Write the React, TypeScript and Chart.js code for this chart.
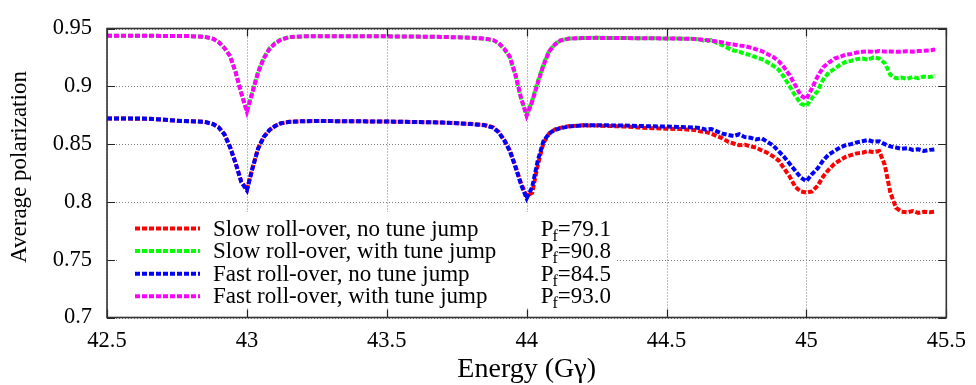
import React, { useEffect, useRef } from "react";
import { Chart, registerables } from "chart.js";

Chart.register(...registerables);

const energy = [
  42.5, 42.55, 42.6, 42.65, 42.7, 42.75, 42.8, 42.85,
  42.88, 42.9, 42.92, 42.94, 42.96, 42.98, 43.0, 43.02, 43.04, 43.06, 43.08, 43.1, 43.12, 43.15,
  43.2, 43.25, 43.3, 43.35, 43.4, 43.45, 43.5, 43.55, 43.6, 43.65, 43.7, 43.75, 43.8, 43.85,
  43.88, 43.9, 43.92, 43.94, 43.96, 43.98, 44.0, 44.02, 44.04, 44.06, 44.08, 44.1, 44.12, 44.15,
  44.2, 44.25, 44.3, 44.35, 44.4, 44.45, 44.5, 44.55, 44.6,
  44.62, 44.64, 44.66, 44.68, 44.7, 44.72, 44.74, 44.76, 44.78, 44.8,
  44.82, 44.84, 44.86, 44.88, 44.9, 44.92, 44.94, 44.96, 44.98, 45.0,
  45.02, 45.04, 45.06, 45.08, 45.1, 45.12, 45.14, 45.16, 45.18, 45.2,
  45.22, 45.24, 45.26, 45.28, 45.3, 45.32, 45.34, 45.36, 45.38, 45.4,
  45.42, 45.44, 45.46,
];

const slowNoJump = [
  0.8721, 0.8722, 0.872, 0.872, 0.8711, 0.8702, 0.8697, 0.8692,
  0.8672, 0.8644, 0.8585, 0.8475, 0.8335, 0.8175, 0.8105, 0.8292, 0.8462, 0.8562, 0.8621, 0.8656, 0.8679, 0.8693,
  0.8698, 0.87, 0.8699, 0.8698, 0.8697, 0.8696, 0.8695, 0.8693, 0.8691, 0.8689, 0.8686, 0.8681, 0.8675, 0.8665,
  0.8645, 0.8605, 0.8535, 0.8445, 0.831, 0.816, 0.805, 0.808, 0.832, 0.851, 0.859, 0.8625, 0.864, 0.8655,
  0.8662, 0.866, 0.8656, 0.8652, 0.8644, 0.8638, 0.8633, 0.863, 0.8622,
  0.861, 0.8605, 0.859, 0.857, 0.855, 0.852, 0.8505, 0.849, 0.8495, 0.848,
  0.847, 0.8445, 0.8425, 0.8395, 0.836, 0.829, 0.822, 0.813, 0.809, 0.808,
  0.809, 0.814, 0.822, 0.828, 0.833, 0.836, 0.839, 0.8405, 0.842, 0.8425,
  0.844, 0.843, 0.844, 0.832, 0.808, 0.795, 0.7915, 0.791, 0.792, 0.7905,
  0.7915, 0.791, 0.7915,
];

const slowWithJump = [
  0.9438, 0.9438, 0.9437, 0.9437, 0.9436, 0.9436, 0.9434, 0.9428,
  0.941, 0.9382, 0.9332, 0.9262, 0.9122, 0.8942, 0.8785, 0.8955, 0.9125, 0.9245, 0.9325, 0.9372, 0.9402, 0.9426,
  0.9432, 0.9434, 0.9434, 0.9433, 0.9433, 0.9432, 0.9432, 0.9431, 0.943, 0.9429, 0.9427, 0.9424, 0.942, 0.9412,
  0.94, 0.9372, 0.932, 0.925, 0.9095, 0.8895, 0.875, 0.888, 0.9045, 0.919, 0.9305, 0.9362, 0.9397, 0.9413,
  0.9418, 0.942, 0.9418, 0.9418, 0.9416, 0.9416, 0.9414, 0.9413, 0.941,
  0.9405, 0.939, 0.94, 0.9375, 0.9355, 0.933, 0.931, 0.93, 0.928, 0.927,
  0.925, 0.9235, 0.921, 0.918, 0.9145, 0.908, 0.9, 0.892, 0.885, 0.883,
  0.89, 0.896, 0.906, 0.912, 0.915, 0.9185, 0.921, 0.922, 0.9235, 0.924,
  0.923, 0.925, 0.924, 0.92, 0.91, 0.907, 0.9075, 0.9065, 0.908, 0.907,
  0.9085, 0.908, 0.909,
];

const fastNoJump = [
  0.8722, 0.8722, 0.8721, 0.872, 0.8712, 0.8702, 0.8698, 0.8692,
  0.8672, 0.8642, 0.8582, 0.8472, 0.8332, 0.8172, 0.81, 0.829, 0.846, 0.856, 0.862, 0.8655, 0.8678, 0.8692,
  0.8698, 0.87, 0.8699, 0.8698, 0.8697, 0.8696, 0.8695, 0.8693, 0.8691, 0.8689, 0.8686, 0.8681, 0.8673, 0.8663,
  0.8642, 0.8602, 0.8532, 0.844, 0.83, 0.815, 0.803, 0.813, 0.836, 0.8525, 0.8592, 0.8622, 0.8637, 0.8652,
  0.8662, 0.8664, 0.8662, 0.866, 0.8657, 0.8654, 0.8652, 0.8648, 0.8643,
  0.864, 0.8625, 0.863, 0.861, 0.859, 0.858, 0.857, 0.8585, 0.856, 0.8555,
  0.854, 0.855, 0.852, 0.849, 0.844, 0.839, 0.833, 0.827, 0.821, 0.818,
  0.824, 0.829, 0.836, 0.841, 0.844, 0.847, 0.849, 0.85, 0.8515, 0.8525,
  0.8535, 0.852, 0.8525, 0.85, 0.848, 0.847, 0.846, 0.8465, 0.845, 0.8455,
  0.844, 0.845, 0.8455,
];

const fastWithJump = [
  0.9438, 0.9438, 0.9437, 0.9437, 0.9436, 0.9436, 0.9434, 0.9428,
  0.941, 0.938, 0.933, 0.926, 0.912, 0.894, 0.878, 0.895, 0.912, 0.924, 0.932, 0.937, 0.94, 0.9425,
  0.9432, 0.9434, 0.9434, 0.9433, 0.9433, 0.9432, 0.9432, 0.9431, 0.943, 0.9429, 0.9427, 0.9424, 0.942, 0.9412,
  0.94, 0.9375, 0.9325, 0.9255, 0.91, 0.89, 0.8745, 0.887, 0.903, 0.918, 0.93, 0.936, 0.9395, 0.9412,
  0.9418, 0.9419, 0.9418, 0.9417, 0.9416, 0.9415, 0.9414, 0.9412, 0.941,
  0.9405, 0.94, 0.9395, 0.9388, 0.938, 0.9368, 0.9362, 0.9352, 0.9348, 0.9335,
  0.932, 0.9305, 0.928, 0.9255, 0.922, 0.9165, 0.9095, 0.901, 0.892, 0.889,
  0.8985, 0.9085, 0.9165, 0.9205, 0.924, 0.9255, 0.9272, 0.928, 0.9292, 0.9298,
  0.9302, 0.9298, 0.9305, 0.93, 0.9302, 0.9298, 0.93, 0.9303, 0.93, 0.9305,
  0.9307, 0.931, 0.9318,
];

const seriesLabels = [
  "Slow roll-over, no tune jump",
  "Slow roll-over, with tune jump",
  "Fast roll-over, no tune jump",
  "Fast roll-over, with tune jump",
];
const finalPolarization = ["79.1", "90.8", "84.5", "93.0"];
const seriesColors = ["#ff0000", "#00ff00", "#0000ff", "#ff00ff"];
const seriesValues = [slowNoJump, slowWithJump, fastNoJump, fastWithJump];

const xTicks = [42.5, 43, 43.5, 44, 44.5, 45, 45.5];
const xTickLabels = ["42.5", "43", "43.5", "44", "44.5", "45", "45.5"];
const yTicks = [0.7, 0.75, 0.8, 0.85, 0.9, 0.95];
const yTickLabels = ["0.7", "0.75", "0.8", "0.85", "0.9", "0.95"];

const xTitle = "Energy (G\u03b3)";
const yTitle = "Average polarization";

const FONT = "'Liberation Serif', 'DejaVu Serif', serif";
const W = 976;
const H = 385;

export default function App() {
  const canvasRef = useRef<HTMLCanvasElement | null>(null);

  useEffect(() => {
    const canvas = canvasRef.current;
    if (!canvas) return;

    const makeData = (vals: number[]) => energy.map((x, i) => ({ x, y: vals[i] }));

    // last dataset is drawn first -> list magenta, blue, green, red
    const drawOrder = [3, 2, 1, 0];
    const datasets = drawOrder.map((k) => ({
      label: seriesLabels[k],
      data: makeData(seriesValues[k]),
      borderColor: seriesColors[k],
      backgroundColor: seriesColors[k],
      borderWidth: 4,
      borderDash: [5, 2],
      pointRadius: 0,
      tension: 0,
      fill: false,
    }));

    const overlay = {
      id: "overlay",
      beforeDatasetsDraw(chart: any) {
        const ctx = chart.ctx as CanvasRenderingContext2D;
        const { left, right, top, bottom } = chart.chartArea;
        const xs = chart.scales.x;
        const ys = chart.scales.y;
        ctx.save();
        // dotted grid
        ctx.strokeStyle = "#7a7a7a";
        ctx.lineWidth = 1;
        ctx.setLineDash([1, 2]);
        ctx.beginPath();
        xTicks.forEach((v) => {
          const px = Math.round(xs.getPixelForValue(v)) + 0.5;
          ctx.moveTo(px, top);
          ctx.lineTo(px, bottom);
        });
        yTicks.forEach((v) => {
          const py = Math.round(ys.getPixelForValue(v)) + 0.5;
          ctx.moveTo(left, py);
          ctx.lineTo(right, py);
        });
        ctx.stroke();
        ctx.setLineDash([]);
        // legend box
        ctx.fillStyle = "#ffffff";
        ctx.fillRect(118, 212, 498, 96);
        const rowBase = [235.5, 258, 280.7, 303.3];
        for (let i = 0; i < 4; i++) {
          const b = rowBase[i];
          ctx.strokeStyle = seriesColors[i];
          ctx.lineWidth = 4;
          ctx.setLineDash([5, 2]);
          ctx.beginPath();
          ctx.moveTo(135, b - 7);
          ctx.lineTo(200, b - 7);
          ctx.stroke();
          ctx.setLineDash([]);
          ctx.fillStyle = "#000";
          ctx.textBaseline = "alphabetic";
          ctx.textAlign = "left";
          ctx.font = `23px ${FONT}`;
          ctx.fillText(seriesLabels[i], 213, b);
          const big = `23px ${FONT}`;
          const small = `16px ${FONT}`;
          ctx.font = big;
          const wP = ctx.measureText("P").width;
          const rest = "=" + finalPolarization[i];
          const wR = ctx.measureText(rest).width;
          ctx.font = small;
          const wF = ctx.measureText("f").width;
          const rightEdge = 611;
          const x0 = rightEdge - wR - wF - wP + 1;
          ctx.font = big;
          ctx.fillText("P", x0, b);
          ctx.font = small;
          ctx.fillText("f", x0 + wP - 1, b + 5);
          ctx.font = big;
          ctx.fillText(rest, x0 + wP + wF - 1, b);
        }
        ctx.restore();
      },
      afterDraw(chart: any) {
        const ctx = chart.ctx as CanvasRenderingContext2D;
        const { left, right, top, bottom } = chart.chartArea;
        const xs = chart.scales.x;
        const ys = chart.scales.y;
        ctx.save();
        ctx.strokeStyle = "#222";
        ctx.lineWidth = 1.2;
        ctx.setLineDash([]);
        ctx.beginPath();
        xTicks.forEach((v) => {
          const px = Math.round(xs.getPixelForValue(v)) + 0.5;
          ctx.moveTo(px, bottom);
          ctx.lineTo(px, bottom - 8);
          ctx.moveTo(px, top);
          ctx.lineTo(px, top + 8);
        });
        yTicks.forEach((v) => {
          const py = Math.round(ys.getPixelForValue(v)) + 0.5;
          ctx.moveTo(left, py);
          ctx.lineTo(left + 8, py);
          ctx.moveTo(right, py);
          ctx.lineTo(right - 8, py);
        });
        ctx.stroke();
        ctx.strokeStyle = "#333";
        ctx.lineWidth = 1.6;
        ctx.strokeRect(left, top, right - left, bottom - top);
        ctx.fillStyle = "#000";
        ctx.font = `28px ${FONT}`;
        ctx.textAlign = "center";
        ctx.textBaseline = "alphabetic";
        ctx.fillText(xTitle, (left + right) / 2, 377);
        ctx.translate(20, 167);
        ctx.rotate(-Math.PI / 2);
        ctx.font = `23px ${FONT}`;
        ctx.textBaseline = "middle";
        ctx.fillText(yTitle, 0, 0);
        ctx.restore();
      },
    };

    const chart = new Chart(canvas, {
      type: "line",
      data: { datasets: datasets as any },
      options: {
        animation: false,
        responsive: false,
        maintainAspectRatio: false,
        layout: { padding: { left: 0, right: 26, top: 15.5, bottom: 0 } },
        plugins: {
          legend: { display: false },
          tooltip: { enabled: false },
          title: { display: false },
        },
        scales: {
          x: {
            type: "linear",
            min: 42.5,
            max: 45.5,
            afterBuildTicks: (scale: any) => {
              scale.ticks = xTicks.map((v) => ({ value: v }));
            },
            afterFit: (scale: any) => {
              scale.height = 67.5;
            },
            ticks: {
              autoSkip: false,
              maxRotation: 0,
              padding: 10,
              color: "#000",
              font: { family: FONT, size: 22.5 },
              callback: (value: any) => {
                const i = xTicks.findIndex((t) => Math.abs(t - Number(value)) < 1e-6);
                return i >= 0 ? xTickLabels[i] : "";
              },
            },
            grid: { display: false, drawTicks: false },
            border: { display: false },
          },
          y: {
            type: "linear",
            min: 0.7,
            max: 0.95,
            afterBuildTicks: (scale: any) => {
              scale.ticks = yTicks.map((v) => ({ value: v }));
            },
            afterFit: (scale: any) => {
              scale.width = 107;
            },
            ticks: {
              autoSkip: false,
              padding: 15,
              color: "#000",
              font: { family: FONT, size: 22.5 },
              callback: (value: any) => {
                const i = yTicks.findIndex((t) => Math.abs(t - Number(value)) < 1e-6);
                return i >= 0 ? yTickLabels[i] : "";
              },
            },
            grid: { display: false, drawTicks: false },
            border: { display: false },
          },
        },
      },
      plugins: [overlay],
    });

    return () => {
      chart.destroy();
    };
  }, []);

  return (
    <div style={{ position: "fixed", left: 0, top: 0, width: W, height: H, background: "#fff" }}>
      <canvas ref={canvasRef} width={W} height={H} style={{ display: "block", width: W, height: H }} />
    </div>
  );
}
